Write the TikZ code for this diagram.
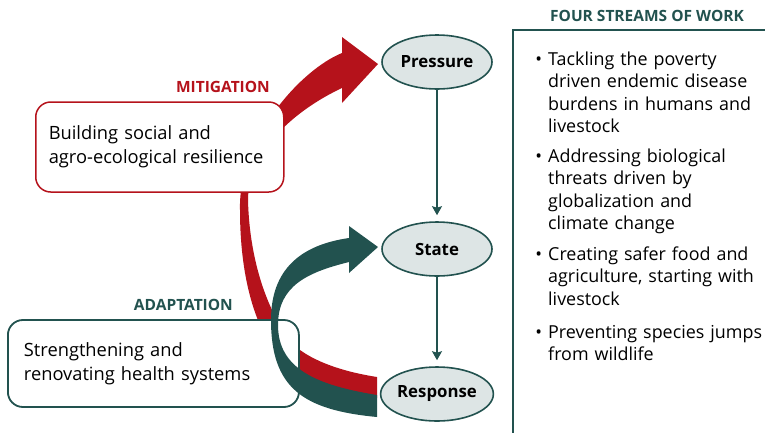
\documentclass[tikz,border=0pt]{standalone}
\usepackage{fontspec}
\setmainfont{Open Sans}
\usetikzlibrary{arrows.meta,shapes.geometric}
\definecolor{mitred}{HTML}{B5121B}
\definecolor{adteal}{HTML}{22524F}
\definecolor{stagefill}{HTML}{DDE5E5}

\begin{document}
\begin{tikzpicture}[x=1pt,y=-1pt,
  stage/.style={ellipse, draw=adteal, line width=1.6pt, fill=stagefill,
    minimum width=110pt, minimum height=54pt, inner sep=0pt,
    font=\fontsize{16.8}{20}\selectfont\bfseries},
  flow/.style={draw=adteal, line width=1.5pt,
    -{Stealth[length=9pt,width=10pt,inset=1.5pt]}, shorten >=6pt},
  redbox/.style={draw=mitred, line width=1.5pt, fill=white,
    rounded corners=15pt, align=left, anchor=west,
    font=\fontsize{18.3}{24}\selectfont},
  tealbox/.style={draw=adteal, line width=1.8pt, fill=white,
    rounded corners=15pt, align=left, anchor=west,
    font=\fontsize{18.3}{24}\selectfont},
  tag/.style={inner sep=0pt, font=\fontsize{15.5}{18}\selectfont\bfseries},
  stream/.style={anchor=base west, inner sep=0pt, text width=216pt,
    align=left, font=\fontsize{17.9}{22.5}\selectfont},
]
\useasboundingbox (0,0) rectangle (765,432);

% mitigation band: from Response round the left to Pressure
\fill[mitred] (377,377)
  .. controls (345,372) and (318,363) .. (300,350)
  .. controls (280,334) and (250,280) .. (248,200)
  .. controls (248,150) and (297,109) .. (342,88)
  -- (342,103) -- (378,64) -- (342,37) -- (342,53)
  .. controls (300,70) and (238,140) .. (240,210)
  .. controls (240,320) and (280,405) .. (377,398)
  -- cycle;

% the two action boxes
\node[redbox, minimum width=248pt, minimum height=90pt,
  text width=222pt, inner xsep=13pt] (resil) at (35,147)
  {Building social and\\agro-ecological resilience};
\node[tealbox, minimum width=291pt, minimum height=87pt,
  text width=259pt, inner xsep=16pt] (health) at (7,363.5)
  {Strengthening and\\renovating health systems};

% adaptation band: from Response round the left to State
\fill[adteal] (377,395)
  .. controls (315,385) and (278,368) .. (278,325)
  .. controls (278,285) and (309,272) .. (349,262)
  -- (349,273) -- (378,247) -- (349,226) -- (349,238)
  .. controls (300,245) and (271,270) .. (271,320)
  .. controls (271,388) and (303,410) .. (377,417)
  -- cycle;

% pressure -> state -> response chain
\node[stage] (pressure) at (437,62) {Pressure};
\node[stage] (state) at (437,249) {State};
\node[stage] (response) at (437,394) {Response};
\draw[flow] (pressure) -- (state);
\draw[flow] (state) -- (response);

% band labels
\node[tag, text=mitred, anchor=east] (mitlabel) at (270,87) {MITIGATION};
\node[tag, text=adteal, anchor=east] (adlabel) at (233,305) {ADAPTATION};

% streams of work panel
\node[tag, text=adteal] (streamhead) at (647,16) {FOUR STREAMS OF WORK};
\draw[adteal, line width=2pt] (513,440) -- (513,30) -- (775,30);
\node[stream] (s1) at (548,65)
  {\llap{\textbullet\hspace{6pt}}Tackling the poverty\\driven endemic disease\\burdens in humans and\\livestock};
\node[stream] (s2) at (548,162)
  {\llap{\textbullet\hspace{6pt}}Addressing biological\\threats driven by\\globalization and\\climate change};
\node[stream] (s3) at (548,260)
  {\llap{\textbullet\hspace{6pt}}Creating safer food and\\agriculture, starting with\\livestock};
\node[stream] (s4) at (548,338)
  {\llap{\textbullet\hspace{6pt}}Preventing species jumps\\from wildlife};
\end{tikzpicture}
\end{document}
